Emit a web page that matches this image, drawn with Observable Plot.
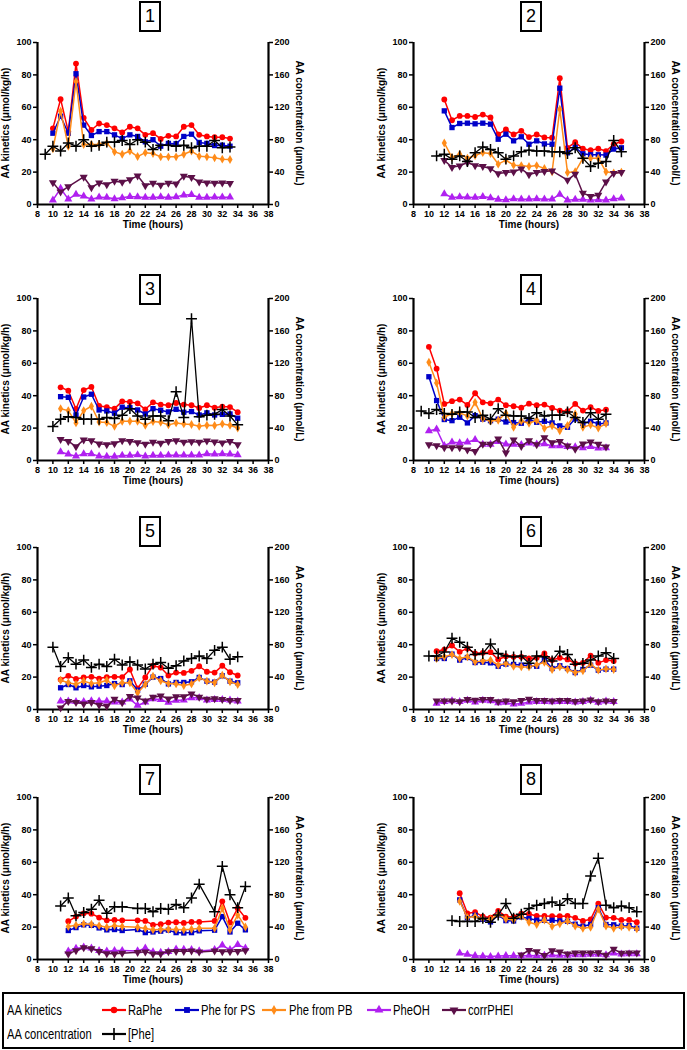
<!DOCTYPE html>
<html><head><meta charset="utf-8">
<script src="https://cdn.jsdelivr.net/npm/d3@7"></script>
<script src="https://cdn.jsdelivr.net/npm/@observablehq/plot@0.6"></script>
<style>
body{margin:0;background:#fff;font-family:"Liberation Sans",Arial,sans-serif;}
#root{position:relative;width:687px;height:1050px;overflow:hidden;background:#fff;}
.panel{position:absolute;}
.panel svg{max-width:none;display:block;}
.num{position:absolute;box-sizing:border-box;width:22px;height:31px;border:2.5px solid #000;font-size:18px;line-height:26px;text-align:center;background:#fff;color:#000;}
.legend{position:absolute;left:2px;top:992px;width:683px;height:57px;box-sizing:border-box;border:2px solid #000;}
.lt{position:absolute;font-size:14px;line-height:16px;white-space:nowrap;transform:scaleX(0.8);transform-origin:left center;color:#000;}
.vlab{position:absolute;font-family:"Liberation Sans",Arial,sans-serif;font-size:10px;font-weight:bold;line-height:12px;white-space:nowrap;writing-mode:vertical-rl;color:#000;}
</style></head><body><div id="root"></div>
<script>
// ---------- axis ticks & labels ----------
const xTicks = [8,10,12,14,16,18,20,22,24,26,28,30,32,34,36,38];
const yTicks = [0,20,40,60,80,100];
const yRightTicks = [0,40,80,120,160,200];
const xLabel = "Time (hours)";
const yLeftLabel = "AA kinetics (\u03bcmol/kg/h)";
const yRightLabel = "AA concentration (\u03bcmol/L)";
const panelNumbers = ["1","2","3","4","5","6","7","8"];
const seriesNames = ["RaPhe","Phe for PS","Phe from PB","PheOH","corrPHEI","[Phe]"];
const groupNames = ["AA kinetics","AA concentration"];

// ---------- panel 1 ----------
const p1Time = [10,11,12,13,14,15,16,17,18,19,20,21,22,23,24,25,26,27,28,29,30,31,32,33];
const p1RaPhe = [47,65,45,87,53.5,46,50,49,47,44.5,48,47,43,44,40.5,42.4,42,48,49,43,42,41.5,41.5,40.7];
const p1PhePS = [44,54.5,44,80.7,49,42.6,45,45,43,40.7,43,42,38.7,40,36,37.7,37.5,42,43.4,38.3,37.7,36.4,36.6,36];
const p1PhePB = [34.4,57.6,36,76,37,37,37,38,32.5,31,33,29.6,32,31.5,29.4,29.4,29.4,31,33,29.8,29.4,28.8,28,27.8];
const p1PheOH = [2.7,9.9,3.3,6.2,5.1,3.3,4.5,4.3,3.5,4.1,4.9,4.7,4.3,4.3,4.7,4.3,4.7,5.8,6,4.3,4.3,4.5,4.5,4.5];
const p1CorrPHEI = [13.6,7.8,11,null,17,10.5,13.4,12.3,14.4,13.8,15.4,17.7,11.7,13.2,12,13.2,12.8,17.5,16.7,14,13.4,13.2,13.4,13];
const p1PheTime = [9,10,11,12,13,14,15,16,17,18,19,20,21,22,23,24,25,26,27,28,29,30,31,32,33];
const p1Phe = [62,72,66,76,72,80,72,73,77,77,79,74,80,77,68,73,73,72,73,70,72,72,79,70,71];

// ---------- panel 2 ----------
const p2Time = [12,13,14,15,16,17,18,19,20,21,22,23,24,25,26,27,28,29,30,31,32,33,34,35];
const p2RaPhe = [64.8,52,54.7,54.7,54,55.5,53.7,43.2,46.3,43.2,45.5,41.6,43.2,41.4,41.2,78,35,38.5,34.4,33.5,34.4,33,37.2,38.9];
const p2PhePS = [57.8,47.5,50,50.2,49.8,50.2,49.6,40.3,43.4,39.3,41.8,37.2,39.3,37.4,37.2,71.8,31.9,35.2,31.3,30.7,30.7,30.5,34.2,35];
const p2PhePB = [38,29,31,28.6,30.2,32,31.5,24.9,27.4,24.3,24,23.5,24,22.2,20.2,58.8,19.8,20.2,28.4,28.6,28.6,20.2,19.5,20];
const p2PheOH = [6.6,4.3,4.7,4.5,4.3,4.9,4.1,3.1,2.9,3.5,3.3,3.3,3.5,3.3,3.3,6.2,2.7,3.1,3.1,2.7,2.9,2.7,3.5,3.9];
const p2CorrPHEI = [27.2,23,23.9,25.9,24,23.5,22.2,19.1,19.8,20.2,22,18.5,19.8,20.4,20.8,null,15,18.7,7,5.1,5.8,14,19.3,19.8];
const p2PheTime = [11,12,13,14,15,16,17,18,19,20,21,22,23,24,25,26,27,28,29,30,31,32,33,34,35];
const p2Phe = [60,62,56,60,53,64,71,68,64,56,60,65,67,66,66,65,65,63,70,57,47,51,53,79,65];

// ---------- panel 3 ----------
const p3Time = [11,12,13,14,15,16,17,18,19,20,21,22,23,24,25,26,27,28,29,30,31,32,33,34];
const p3RaPhe = [45.2,43.1,31.8,43.5,45.4,33.7,33,32,36.5,36.1,35.3,31.6,35.9,34.5,34.1,35.5,34.5,34.1,32.4,34.1,32.6,33.3,33,29.8];
const p3PhePS = [39.4,39,28.1,39.2,40.9,31.2,30.6,29.2,32.9,32.6,31.2,28.7,32,31,30,31.6,29.8,30.2,28.1,29.4,28.1,28.5,28.7,26.1];
const p3PhePB = [32,30.8,23.2,30.8,33.5,23.8,23.4,21.1,24.2,24.2,24.2,21.8,24,23.6,22,23.2,22.6,22.2,21.1,21.8,21.6,22.6,21.8,20.1];
const p3PheOH = [5.3,3.9,2.7,4.1,4.1,2.7,2.5,2.5,3.1,3.1,3.5,2.7,3.1,3.1,3.3,3.3,3.3,3.3,3.3,4.1,3.9,4.1,3.9,3.5];
const p3CorrPHEI = [13.1,11.9,8.6,12.7,12.3,10.3,9.9,10.5,12.3,11.9,11.1,10.1,11.3,10.7,11.9,12.3,11.3,11.7,11.3,12.1,11.5,10.9,11.9,9.9];
const p3PheTime = [10,11,12,13,14,15,16,17,18,19,20,21,22,23,24,25,26,27,28,29,30,31,32,33,34];
const p3Phe = [42,51,54,53,51,51,51,53,52,56,64,55,51,55,55,49,85,53,175,54,56,57,63,55,44];

// ---------- panel 4 ----------
const p4Time = [10,11,12,13,14,15,16,17,18,19,20,21,22,23,24,25,26,27,28,29,30,31,32,33];
const p4RaPhe = [70.2,56.7,34.9,36.6,37.6,34.3,41.5,35.9,35.3,37.6,34.1,33.5,32.6,35.1,34.1,34.5,32.4,30.8,30.4,34.9,30.8,32.9,30.6,31.4];
const p4PhePS = [51.7,37,25.3,24.6,26.7,23.2,27.7,25.5,24.6,25.5,23.8,23.4,23,25.3,23.6,24.2,23.2,21.4,20.5,25.7,22.8,24.2,22.6,23.2];
const p4PhePB = [60.6,47.8,26.7,29,29.4,27.5,35.9,25.9,24.4,24.8,29.2,20.5,24.4,23,24.8,19.9,21.4,18.3,21.6,28.7,20.5,22,20.1,22.8];
const p4PheOH = [18.3,19.3,9.2,11.3,10.9,11.3,12.9,9.9,9.9,11.7,10.1,9.9,9.7,10.7,10.1,10.3,9,9,8.6,8.4,7.8,8.6,7.6,7.8];
const p4CorrPHEI = [9.9,9.2,8,8,8,6.6,5.7,10.1,10.1,13.3,4.7,12.7,8.8,12.3,9.9,14.2,11.1,11.9,9,7,10.3,11.5,10.1,8.4];
const p4PheTime = [9,10,11,12,13,14,15,16,17,18,19,20,21,22,23,24,25,26,27,28,29,30,31,32,33];
const p4Phe = [61,58,63,58,57,60,60,53,56,51,64,56,55,55,52,59,55,56,56,60,53,47,59,51,57];

// ---------- panel 5 ----------
const p5Time = [11,12,13,14,15,16,17,18,19,20,21,22,23,24,25,26,27,28,29,30,31,32,33,34];
const p5RaPhe = [18.5,20.8,18.9,19.8,20.2,19.1,20,20.2,20,24.7,13,19.8,27,25.9,21,22.8,22.6,23.9,26.7,23.3,22.8,27,23,21];
const p5PhePS = [13.4,15.4,13.4,14.8,14,14.4,14.8,16,15.4,17.7,11.9,15.6,20,19.1,15.8,16.7,16.7,17.1,19.8,17.5,16.9,20.8,17.5,16.5];
const p5PhePB = [18.1,16.5,15.6,17.5,16,16.5,18.1,14.6,16.5,16.5,10.3,15.4,20.6,17.7,16,15.8,14.8,15.8,19.5,17.5,16.5,21.2,17.1,15.4];
const p5PheOH = [5.1,5.1,4.9,4.9,5.3,5.1,5.1,4.5,4.5,6.4,2.5,4.5,6.6,6,4.3,5.6,5.8,7.2,7.2,5.8,6,6,5.8,5.1];
const p5CorrPHEI = [1,5.1,4.5,3.5,4.5,2.7,2.1,6.4,4.3,8.2,7.2,5.3,7.6,8.4,6.6,8,8,9.7,7.6,6.4,6.8,6.2,5.6,5.6];
const p5PheTime = [10,11,12,13,14,15,16,17,18,19,20,21,22,23,24,25,26,27,28,29,30,31,32,33,34];
const p5Phe = [77,53,64,56,61,52,56,53,62,55,59,55,50,56,58,51,54,60,63,66,63,73,77,62,65];

// ---------- panel 6 ----------
const p6Time = [11,12,13,14,15,16,17,18,19,20,21,22,23,24,25,26,27,28,29,30,31,32,33,34];
const p6RaPhe = [36,37,39.5,35.6,37.7,34.6,35,35.4,30.9,32.9,32.5,32.5,31.5,31.9,34.6,30.5,31.9,30.9,28.4,28.8,33.3,28.8,30.5,30];
const p6PhePS = [31.5,31.5,34.2,30.5,32.1,29,29.2,28.8,26.7,28,27.8,27.4,27,26.7,30.9,25.3,27,25.3,22.8,24.7,27.4,24.3,24.9,24.9];
const p6PhePB = [31.5,32.5,33.9,31.5,32.5,29.4,30,30.5,27.4,28.4,26.7,26.3,26.3,27.6,29.2,24.7,26.3,24.7,22.8,23.9,28,24.3,25.1,24.7];
const p6PheOH = [3.7,4.9,5.3,4.9,5.6,4.5,5.6,5.3,4.1,4.3,3.3,3.7,4.5,4.9,4.9,4.7,4.9,4.9,4.5,4.9,5.6,4.3,5.1,4.9];
const p6CorrPHEI = [5.3,5.3,5.3,4.9,6.2,5.8,6.2,6.2,4.9,5.3,4.9,5.6,6.4,5.6,5.6,5.3,5.6,5.6,5.1,5.3,6,4.9,5.3,5.1];
const p6PheTime = [10,11,12,13,14,15,16,17,18,19,20,21,22,23,24,25,26,27,28,29,30,31,32,33,34];
const p6Phe = [66,66,71,88,83,77,68,69,81,69,66,65,66,57,66,65,60,72,68,56,57,61,66,70,63];

// ---------- panel 7 ----------
const p7Time = [12,13,14,15,16,17,18,19,21,22,23,24,25,26,27,28,29,31,32,33,34,35];
const p7RaPhe = [23.6,26.5,28.5,28.3,25.9,24.2,24.4,24.2,24.2,23.8,21.4,21.8,22.8,23,22.6,23.2,23.2,23.8,35.9,22.8,31.6,25.7];
const p7PhePS = [17.9,19.7,21.4,21.1,19.5,18.3,18.5,17.9,18.5,16.6,17,17.5,18.1,16.6,16.4,16.6,17.7,18.1,26.5,17,22.4,18.3];
const p7PhePB = [20.3,21.1,22,21.8,20.9,19.9,20.9,20.3,19.9,19.1,18.3,18.5,18.7,18.5,18.3,18.7,19.3,19.3,31.6,18.3,27.5,20.1];
const p7PheOH = [5.1,6.8,7.6,7,5.5,5.1,5.5,5.5,5.3,7,4.7,4.3,4.9,6.4,6.2,6,5.3,6,8.8,6,9.2,7];
const p7CorrPHEI = [3.5,5.5,7.4,6.8,5.1,3.7,3.5,3.9,4.5,4.7,3.5,3.5,4.9,5.1,5.1,5.3,4.7,5.3,4.9,4.9,5.1,5.5];
const p7PheTime = [11,12,13,14,15,16,17,18,19,21,22,23,24,25,26,27,28,29,31,32,33,34,35];
const p7Phe = [66,76,54,58,62,73,57,65,65,63,63,59,63,62,68,64,76,93,59,115,80,64,90];

// ---------- panel 8 ----------
const p8Time = [14,15,16,17,18,19,20,21,22,23,24,25,26,27,28,29,30,31,32,33,34,35,36,37];
const p8RaPhe = [40.9,28.5,29.2,26.5,25.9,30,26.5,26.3,28.3,28.1,26.9,26.9,26.7,26.7,26.9,25.7,23.8,24.8,34.5,25.9,25.7,24.4,24.4,23];
const p8PhePS = [36.8,25.7,27.3,24.8,23.2,27.5,24,23.8,26.3,25.3,24.2,24.2,24.2,23.8,23.6,21.8,20.5,21.6,32,21.6,21.4,20.7,20.9,19.3];
const p8PhePB = [36,25.9,26.5,25.3,24.8,27.9,25,24.4,26.7,23,21.6,24.4,20.5,22,23.8,20.7,19.3,19.9,31.2,20.7,19.3,20.3,19.9,18.9];
const p8PheOH = [3.9,3.1,2.3,2.1,1.8,2.1,2.3,2.3,2.1,2.5,2.3,2.5,2.7,2.5,2.5,2.9,2.9,3.1,3.1,2.9,3.9,3.3,3.5,3.5];
const p8CorrPHEI = [null,null,null,null,null,null,null,null,2.9,5.7,4.9,2.5,5.5,4.7,3.5,4.1,4.1,4.1,4.3,2.7,6.4,3.9,4.1,4.1];
const p8PheTime = [13,14,15,16,17,18,19,20,21,22,23,24,25,26,27,28,29,30,31,32,33,34,35,36,37];
const p8Phe = [48,47,47,47,51,46,55,69,51,56,63,67,69,71,67,75,69,69,103,125,67,64,66,64,59];

// ---------- assembly ----------
const panels = [
  {time:p1Time, s:[p1RaPhe,p1PhePS,p1PhePB,p1PheOH,p1CorrPHEI], pheTime:p1PheTime, phe:p1Phe},
  {time:p2Time, s:[p2RaPhe,p2PhePS,p2PhePB,p2PheOH,p2CorrPHEI], pheTime:p2PheTime, phe:p2Phe},
  {time:p3Time, s:[p3RaPhe,p3PhePS,p3PhePB,p3PheOH,p3CorrPHEI], pheTime:p3PheTime, phe:p3Phe},
  {time:p4Time, s:[p4RaPhe,p4PhePS,p4PhePB,p4PheOH,p4CorrPHEI], pheTime:p4PheTime, phe:p4Phe},
  {time:p5Time, s:[p5RaPhe,p5PhePS,p5PhePB,p5PheOH,p5CorrPHEI], pheTime:p5PheTime, phe:p5Phe},
  {time:p6Time, s:[p6RaPhe,p6PhePS,p6PhePB,p6PheOH,p6CorrPHEI], pheTime:p6PheTime, phe:p6Phe},
  {time:p7Time, s:[p7RaPhe,p7PhePS,p7PhePB,p7PheOH,p7CorrPHEI], pheTime:p7PheTime, phe:p7Phe},
  {time:p8Time, s:[p8RaPhe,p8PhePS,p8PhePB,p8PheOH,p8CorrPHEI], pheTime:p8PheTime, phe:p8Phe}
];

const triangleDown = {
  draw(ctx, size) {
    const y = -Math.sqrt(size / (Math.sqrt(3) * 3));
    ctx.moveTo(0, -y * 2);
    ctx.lineTo(-Math.sqrt(3) * y, y);
    ctx.lineTo(Math.sqrt(3) * y, y);
    ctx.closePath();
  }
};
const kinStyles = [
  {color:"#ff0000", symbol:"circle", r:2.9},
  {color:"#0000c8", symbol:"square", r:3.0},
  {color:"#ff8c1a", symbol:"diamond", r:2.7},
  {color:"#b020f0", symbol:"triangle", r:3.0},
  {color:"#5c1048", symbol:triangleDown, r:3.0}
];
const pheStyle = {color:"#000000", symbol:"plus", r:3.6};

const FONT = '"Liberation Sans", Arial, Helvetica, sans-serif';
const cols = [{left:0, width:343, ml:37, mr:75, boxC:150}, {left:343, width:344, ml:70, mr:43, boxC:531}];
const rowPlotTop = [42, 298, 547, 797];
const rowBoxTop = [1, 274, 516, 764];
const MT = 20, PH = 162, MB = 40;

const root = document.getElementById("root");

function addVLabel(txt, cx, cy, flip) {
  const d = document.createElement("div");
  d.className = "vlab";
  d.textContent = txt;
  d.style.left = cx + "px";
  d.style.top = cy + "px";
  d.style.transform = flip ? "translate(-50%,-50%) rotate(180deg)" : "translate(-50%,-50%)";
  root.appendChild(d);
}

panels.forEach((p, idx) => {
  const col = cols[idx % 2], row = Math.floor(idx / 2);
  const marks = [
    Plot.axisX({ticks: xTicks, tickSize: 4, tickPadding: 2, tickFormat: d => String(d), label: null, strokeWidth: 1.5}),
    Plot.axisY({anchor: "left", ticks: yTicks, tickSize: 4, tickPadding: 2, tickFormat: d => String(d), label: null, strokeWidth: 1.5}),
    Plot.axisY({anchor: "right", ticks: yTicks, tickSize: 4, tickPadding: 2, tickFormat: d => String(yRightTicks[yTicks.indexOf(d)]), label: null, strokeWidth: 1.5}),
    Plot.ruleX([8], {strokeWidth: 2.2}),
    Plot.ruleX([38], {strokeWidth: 2.2}),
    Plot.ruleY([0], {strokeWidth: 2.2}),
    Plot.text([xLabel], {text: d => d, frameAnchor: "bottom", dy: 23, fontSize: 10, fontWeight: "bold"})
  ];
  p.s.forEach((vals, k) => {
    const st = kinStyles[k];
    const data = p.time.map((t, i) => ({t, v: vals[i]})).filter(d => d.v != null);
    marks.push(Plot.line(data, {x: "t", y: "v", stroke: st.color, strokeWidth: 1.5}));
    marks.push(Plot.dot(data, {x: "t", y: "v", symbol: st.symbol, r: st.r, fill: st.color, stroke: "none"}));
  });
  const pheData = p.pheTime.map((t, i) => ({t, v: p.phe[i]}));
  // [Phe] on the right axis (0–200 µmol/L shares the 0–100 position range)
  marks.push(Plot.line(pheData, {x: "t", y: d => d.v / 2, stroke: pheStyle.color, strokeWidth: 1.3}));
  marks.push(Plot.dot(pheData, {x: "t", y: d => d.v / 2, symbol: pheStyle.symbol, r: pheStyle.r, stroke: pheStyle.color, strokeWidth: 1.5}));

  const svg = Plot.plot({
    width: col.width,
    height: MT + PH + MB,
    marginLeft: col.ml, marginRight: col.mr, marginTop: MT, marginBottom: MB,
    x: {domain: [8, 38]},
    y: {domain: [0, 100]},
    style: {fontFamily: FONT, fontSize: "9px", fontWeight: "bold", color: "#000", background: "transparent", overflow: "visible"},
    marks
  });
  const holder = document.createElement("div");
  holder.className = "panel";
  holder.style.left = col.left + "px";
  holder.style.top = (rowPlotTop[row] - MT) + "px";
  holder.style.width = col.width + "px";
  holder.style.height = (MT + PH + MB) + "px";
  holder.appendChild(svg);
  root.appendChild(holder);

  // axis titles (vertical)
  const cy = rowPlotTop[row] + PH / 2;
  addVLabel(yLeftLabel, col.left + col.ml - 31, cy, true);
  addVLabel(yRightLabel, col.left + col.width - col.mr + 31, cy, false);

  const box = document.createElement("div");
  box.className = "num";
  box.textContent = panelNumbers[idx];
  box.style.left = (col.boxC - 11) + "px";
  box.style.top = rowBoxTop[row] + "px";
  root.appendChild(box);
});

// ---------- legend ----------
const legend = document.createElement("div");
legend.className = "legend";
root.appendChild(legend);
const legRowY = [1010, 1034];
const legItems = [
  {name: seriesNames[0], st: kinStyles[0], row: 0, sx: 101, tx: 128},
  {name: seriesNames[1], st: kinStyles[1], row: 0, sx: 174, tx: 201},
  {name: seriesNames[2], st: kinStyles[2], row: 0, sx: 261, tx: 289},
  {name: seriesNames[3], st: kinStyles[3], row: 0, sx: 366, tx: 393},
  {name: seriesNames[4], st: kinStyles[4], row: 0, sx: 441, tx: 468},
  {name: seriesNames[5], st: pheStyle, row: 1, sx: 101, tx: 128, stroke: true}
];
function addText(txt, x, yc) {
  const d = document.createElement("div");
  d.className = "lt";
  d.textContent = txt;
  d.style.left = x + "px";
  d.style.top = (yc - 8) + "px";
  root.appendChild(d);
}
groupNames.forEach((g, i) => addText(g, 7, legRowY[i]));
legItems.forEach(it => {
  const yc = legRowY[it.row];
  const s = d3.create("svg").attr("width", 26).attr("height", 14)
    .style("position", "absolute").style("left", it.sx + "px").style("top", (yc - 7) + "px");
  s.append("line").attr("x1", 1).attr("x2", 25).attr("y1", 7).attr("y2", 7)
    .attr("stroke", it.st.color).attr("stroke-width", 2.2);
  const symMap = {circle: d3.symbolCircle, square: d3.symbolSquare, diamond: d3.symbolDiamond, triangle: d3.symbolTriangle, plus: d3.symbolPlus};
  const sym = typeof it.st.symbol === "string" ? symMap[it.st.symbol] : it.st.symbol;
  const rr = it.st.r * 1.1;
  const path = d3.symbol(sym, Math.PI * rr * rr)();
  const el = s.append("path").attr("d", path).attr("transform", "translate(13,7)");
  if (it.stroke) el.attr("fill", "none").attr("stroke", it.st.color).attr("stroke-width", 1.6);
  else el.attr("fill", it.st.color);
  root.appendChild(s.node());
  addText(it.name, it.tx, yc);
});
</script></body></html>
